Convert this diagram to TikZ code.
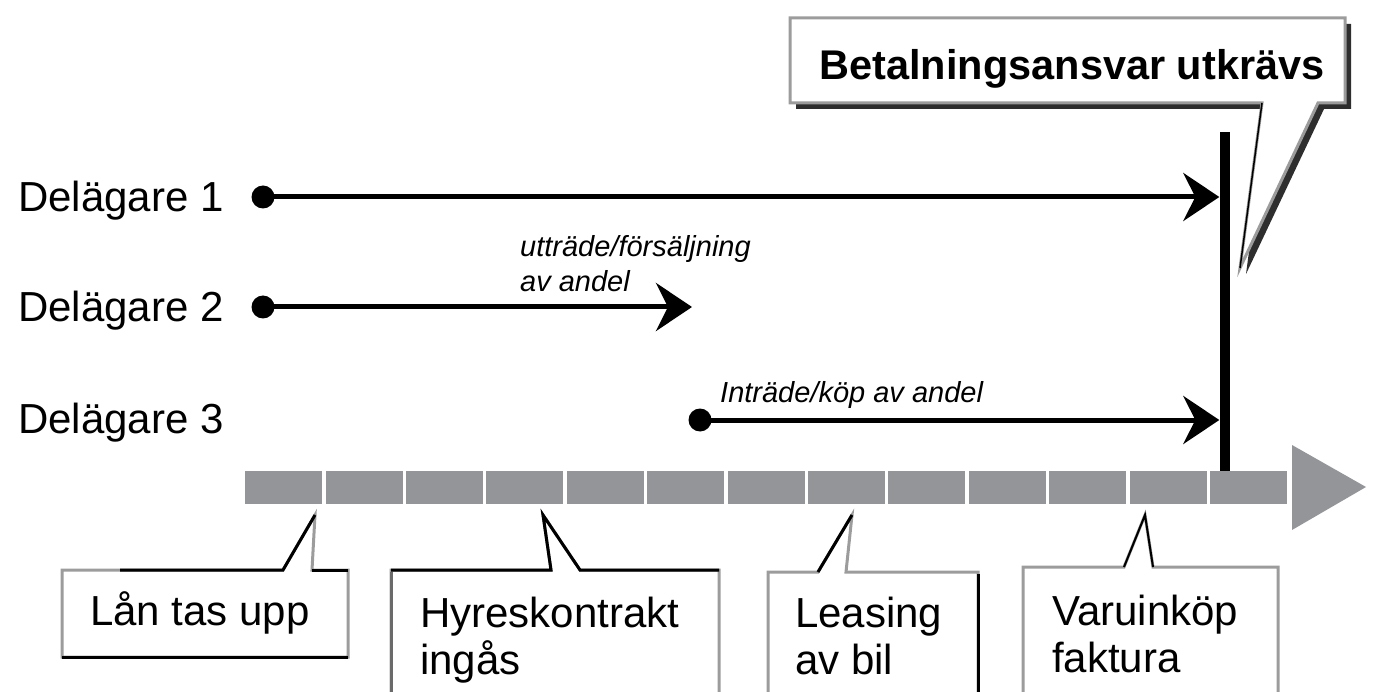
\documentclass[tikz,border=0pt]{standalone}
\usepackage{fontspec}
\setmainfont{Liberation Sans}
\usetikzlibrary{arrows.meta}
\definecolor{bargray}{HTML}{939598}
\definecolor{edgegray}{HTML}{9C9C9C}
\definecolor{darkedge}{HTML}{6A6A6A}
\definecolor{shadowgray}{HTML}{2E2E2E}
\begin{document}
\begin{tikzpicture}[x=1pt,y=-1pt,
  bigtext/.style={font=\fontsize{42}{47}\selectfont, inner sep=0pt},
  smalltext/.style={font=\fontsize{29}{34}\selectfont\itshape, inner sep=0pt},
  dot/.style={circle, fill=black, minimum size=23pt, inner sep=0pt},
  life/.style={line width=5pt, -{Stealth[length=36pt,width=48pt,inset=12pt]}},
  seg/.style={fill=bargray, inner sep=0pt, minimum width=77pt, minimum height=33pt, anchor=north west},
  callout/.style={fill=white, draw=edgegray, line width=3pt, line join=miter},
  blackedge/.style={draw=black, line width=3pt},
  dueline/.style={fill=black, inner sep=0pt, minimum width=10pt, minimum height=339pt}
]
\useasboundingbox (0,0) rectangle (1373,692);
\clip (0,0) rectangle (1373,692);

% timeline bar
\foreach \i in {0,...,12} {
  \node[seg] (seg\i) at ({245+80.4*\i},471) {};
}
\fill[bargray] (1292,445) -- (1366,487) -- (1292,530) -- cycle;

% payment due line
\node[dueline] (due) at (1224.5,301.5) {};

% owner labels
\node[bigtext, anchor=base west] (o1) at (18,212) {Delägare 1};
\node[bigtext, anchor=base west] (o2) at (18,322) {Delägare 2};
\node[bigtext, anchor=base west] (o3) at (18,433) {Delägare 3};

% lifelines
\node[dot] (s1) at (263,197) {};
\node[dot] (s2) at (263,307) {};
\node[dot] (s3) at (700,420) {};
\coordinate (e2) at (692,307);
\draw[life] (s1.center) -- (due.west |- s1);
\draw[life] (s2.center) -- (e2);
\draw[life] (s3.center) -- (due.west |- s3);

\node[smalltext, anchor=base west] (l2) at (520,257) {utträde/försäljning};
\node[smalltext, anchor=base west] (l2b) at (520,292) {av andel};
\node[smalltext, anchor=base west] (l3) at (720,402) {Inträde/köp av andel};

% top callout
\fill[shadowgray, shift={(6,6)}] (790,18) -- (1345,18) -- (1345,103) -- (1318,103) -- (1240,268) -- (1262,103) -- (790,103) -- cycle;
\path[callout] (790,18) -- (1345,18) -- (1345,103) -- (1318,103) -- (1240,268) -- (1262,103) -- (790,103) -- cycle;
\draw[black, line width=1.5pt] (1262,103) -- (1240,268);
\node[font=\fontsize{41.5}{46}\selectfont\bfseries, inner sep=0pt, anchor=base] (bt) at (1072,80) {Betalningsansvar utkrävs};

% bottom callouts
\path[callout] (62,657) -- (62,570) -- (283,570) -- (315,515) -- (312,570) -- (348,570) -- (348,657) -- cycle;
\draw[blackedge] (120,570) -- (283,570) -- (315,515);
\draw[blackedge] (312,570) -- (348,570);
\draw[blackedge] (62,657) -- (348,657);
\node[bigtext, anchor=base west] (c1) at (90,625) {Lån tas upp};

\path[callout] (391,700) -- (391,570) -- (551,570) -- (543,515) -- (580,570) -- (719,570) -- (719,700);
\draw[blackedge] (391,570) -- (551,570) -- (543,515) -- (580,570) -- (719,570);
\draw[draw=darkedge, line width=3pt] (391,572) -- (391,700);
\node[bigtext, anchor=north west, align=left] (c2) at (420,597) {Hyreskontrakt\\ingås};

\path[callout] (768,700) -- (768,572) -- (818,572) -- (852,515) -- (846,572) -- (978,572) -- (978,700);
\draw[blackedge] (818,572) -- (852,515);
\draw[blackedge] (978,574) -- (978,700);
\node[bigtext, anchor=north west, align=left] (c3) at (795,597) {Leasing\\av bil};

\path[callout] (1023,700) -- (1023,567) -- (1124,567) -- (1145,515) -- (1153,567) -- (1278,567) -- (1278,700);
\draw[blackedge, line width=2pt] (1124,567) -- (1145,515) -- (1153,567);
\node[bigtext, anchor=north west, align=left] (c4) at (1052,595) {Varuinköp\\faktura};
\end{tikzpicture}
\end{document}
